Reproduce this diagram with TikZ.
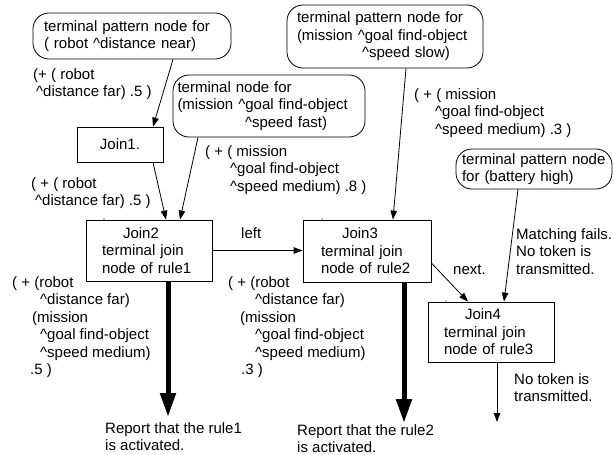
\documentclass[tikz,border=0pt]{standalone}
\usepackage{fontspec}
\setmainfont{Liberation Sans}
\usetikzlibrary{arrows.meta,calc}
\setlength\parindent{0pt}
\newcommand\caret{\textasciicircum}
\begin{document}
\begin{tikzpicture}[x=1pt,y=-1pt,
  every node/.style={font=\fontsize{15pt}{17.5pt}\selectfont, inner sep=0pt},
  pill/.style={draw, rounded corners=16pt, line width=0.8pt, align=left},
  joinbox/.style={draw, line width=0.8pt, align=left},
  txt/.style={anchor=north west, align=left},
  link/.style={line width=0.8pt, -{Triangle[length=9pt,width=6.5pt]}},
  fire/.style={line width=5pt, -{Triangle[length=24pt,width=15pt]}}]
\useasboundingbox (0,0) rectangle (614,455);

% pattern nodes
\node[pill, inner xsep=11pt, text width=176pt, minimum width=198pt, minimum height=46pt]
  (patA) at (132,36) {terminal pattern node for\\( robot \caret distance near)};
\node[pill, inner xsep=4.5pt, text width=183pt, minimum width=192pt, minimum height=62pt]
  (patB) at (269,106) {terminal node for\\(mission \caret goal find-object\\\hspace*{67.5pt}\caret speed fast)};
\node[pill, inner xsep=10pt, text width=176pt, minimum width=196pt, minimum height=63pt]
  (patC) at (385,36.5) {terminal pattern node for\\(mission \caret goal find-object\\\hspace*{65pt}\caret speed slow)};
\node[pill, inner xsep=6pt, text width=144pt, minimum width=156pt, minimum height=40pt]
  (bat) at (534,169) {terminal pattern node\\for (battery high)};

% join nodes
\node[joinbox, align=center, minimum width=86pt, minimum height=35pt] (j1) at (120,144.5) {Join1.};
\node[joinbox, inner xsep=16pt, text width=94pt, minimum width=126pt, minimum height=61pt]
  (j2) at (149,250.5) {\hspace*{21pt}Join2\\terminal join\\node of rule1};
\node[joinbox, inner xsep=18pt, text width=92pt, minimum width=128pt, minimum height=62pt]
  (j3) at (367,251) {\hspace*{21pt}Join3\\terminal join\\node of rule2};
\node[joinbox, inner xsep=16pt, text width=94pt, minimum width=126pt, minimum height=60pt]
  (j4) at (491,332) {\hspace*{21pt}Join4\\terminal join\\node of rule3};

% free ends of the output arrows
\coordinate (r1) at (168,417);
\coordinate (r2) at (404,423);
\coordinate (nt) at (497,422);

% token flow
\draw[link] ([xshift=41pt]patA.south) -- ([xshift=33pt]j1.north);
\draw[link] ([xshift=33pt]j1.south) -- ([xshift=17pt]j2.north);
\draw[link] ([xshift=-71pt]patB.south) -- ([xshift=31pt]j2.north);
\draw[link] ([xshift=21pt]patC.south) -- ([xshift=26pt]j3.north);
\draw[link] ([xshift=-16pt]bat.south) -- ([xshift=13pt]j4.north);
\draw[link] (j2.east) -- (j2.east -| j3.west);
\draw[link] ([yshift=-12pt]j3.east) -- ([xshift=-23pt]j4.north);
\draw[link] (j4.south -| nt) -- (nt);
\draw[fire] (j2.south -| r1) -- (r1);
\draw[fire] (j3.south -| r2) -- (r2);

% small marks on the join nodes
\fill (104,219) circle (0.6pt);
\fill (322,219) circle (0.6pt);
\fill (446,301) circle (0.6pt);

% token labels
\node[txt] (l1) at (33,68) {(+ ( robot\\\hspace*{3pt}\caret distance far) .5 )};
\node[txt] (l2) at (205,145) {( + ( mission\\\hspace*{25pt}\caret goal find-object\\\hspace*{25pt}\caret speed medium) .8 )};
\node[txt] (l3) at (31,177) {( + ( robot\\\hspace*{4pt}\caret distance far) .5 )};
\node[txt] (l4) at (414,88) {( + ( mission\\\hspace*{21pt}\caret goal find-object\\\hspace*{21pt}\caret speed medium) .3 )};
\node[txt] (l5) at (241,227) {left};
\node[txt] (l6) at (516,228) {Matching fails.\\No token is\\transmitted.};
\node[txt] (l7) at (453,265) {next.};
\node[txt] (l8) at (514,373) {No token is\\transmitted.};
\node[txt] (l9) at (12,276) {( + (robot\\\hspace*{28pt}\caret distance far)\\\hspace*{20pt}(mission\\\hspace*{28pt}\caret goal find-object\\\hspace*{28pt}\caret speed medium)\\\hspace*{18pt}.5 )};
\node[txt] (l10) at (228,276) {( + (robot\\\hspace*{27pt}\caret distance far)\\\hspace*{12pt}(mission\\\hspace*{27pt}\caret goal find-object\\\hspace*{27pt}\caret speed medium)\\\hspace*{13pt}.3 )};
\node[txt] (l11) at (105,422) {Report that the rule1\\is activated.};
\node[txt] (l12) at (297,424) {Report that the rule2\\is activated.};
\end{tikzpicture}
\end{document}
